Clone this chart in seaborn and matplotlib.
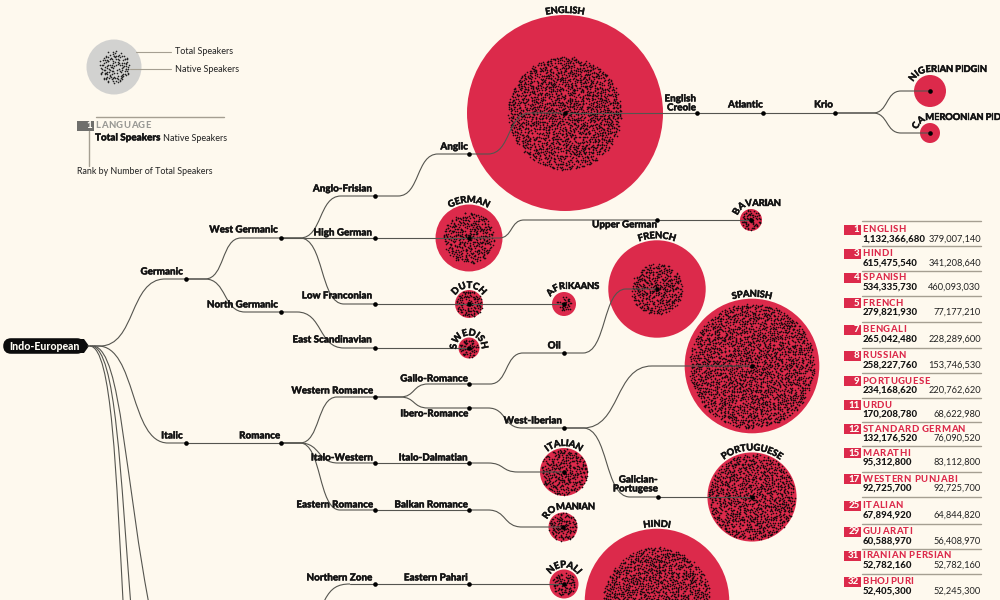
import numpy as np
import pandas as pd
import matplotlib.pyplot as plt
import matplotlib.patheffects as pe
import seaborn as sns
from matplotlib.font_manager import FontProperties
from matplotlib.patches import Circle, FancyBboxPatch, PathPatch, Polygon, Rectangle
from matplotlib.path import Path
from matplotlib.textpath import text_to_path

BG = "#fef9ee"
RED = "#dc2a4b"
INK = "#141414"
LINE = "#55554f"
RULE = "#a59f92"
FONT = "Lato"

# languages on the tree, speakers in millions
lang_names = ["ENGLISH", "NIGERIAN PIDGIN", "CAMEROONIAN PIDGIN", "GERMAN", "BAVARIAN", "DUTCH",
              "AFRIKAANS", "SWEDISH", "FRENCH", "SPANISH", "PORTUGUESE", "ITALIAN", "ROMANIAN",
              "NEPALI", "HINDI"]
lang_total = [1132.37, 30.2, 11.8, 132.18, 14.3, 23.0, 17.0, 13.0, 279.82, 534.34, 234.17, 67.89,
              24.8, 24.8, 615.48]
lang_native = [379.01, 0.0, 0.0, 76.09, 12.0, 21.0, 7.0, 10.0, 77.18, 460.09, 220.76, 64.84, 24.0,
               16.0, 341.21]

# tree nodes and where they sit on the page (pixels)
node_xy = {
    "root": (88, 346), "Germanic": (186, 279), "West Germanic": (281, 238), "North Germanic": (281, 312),
    "Anglo-Frisian": (375, 196), "High German": (375, 238), "Low Franconian": (375, 304),
    "East Scandinavian": (375, 348), "Anglic": (469, 154), "ENGLISH": (565, 113),
    "English Creole": (697, 113), "Atlantic": (763, 113), "Krio": (835, 113),
    "NIGERIAN PIDGIN": (930, 91), "CAMEROONIAN PIDGIN": (930, 133), "GERMAN": (469, 238),
    "Upper German": (657, 220), "BAVARIAN": (751, 220), "DUTCH": (469, 304), "AFRIKAANS": (564, 304),
    "SWEDISH": (469, 348), "Italic": (186, 443), "Romance": (281, 443), "Western Romance": (375, 397),
    "Italo-Western": (375, 463), "Eastern Romance": (375, 510), "Gallo-Romance": (469, 384),
    "Ibero-Romance": (469, 408), "Italo-Dalmatian": (469, 463), "Balkan Romance": (469, 510),
    "Oil": (564, 353), "FRENCH": (657, 289), "West-Iberian": (564, 428), "SPANISH": (752, 366),
    "Galician": (658, 497), "PORTUGUESE": (752, 497), "ITALIAN": (564, 472), "ROMANIAN": (563, 527),
    "Northern Zone": (375, 584), "Eastern Pahari": (469, 584), "NEPALI": (564, 584), "HINDI": (657, 601),
}

# parent, child, x where the bend starts, x where it ends (None = straight)
edges = [
    ("root", "Germanic", 100, 165), ("root", "Italic", 98, 168),
    ("Germanic", "West Germanic", 205, 241), ("Germanic", "North Germanic", 205, 245),
    ("West Germanic", "Anglo-Frisian", 300, 341), ("West Germanic", "High German", None, None),
    ("West Germanic", "Low Franconian", 300, 344), ("North Germanic", "East Scandinavian", 297, 344),
    ("Anglo-Frisian", "Anglic", 398, 438), ("Anglic", "ENGLISH", 488, 530),
    ("ENGLISH", "English Creole", None, None), ("English Creole", "Atlantic", None, None),
    ("Atlantic", "Krio", None, None), ("Krio", "NIGERIAN PIDGIN", 873, 901),
    ("Krio", "CAMEROONIAN PIDGIN", 873, 901), ("High German", "GERMAN", None, None),
    ("GERMAN", "Upper German", 499, 524), ("Upper German", "BAVARIAN", None, None),
    ("Low Franconian", "DUTCH", None, None), ("DUTCH", "AFRIKAANS", None, None),
    ("East Scandinavian", "SWEDISH", None, None), ("Italic", "Romance", None, None),
    ("Romance", "Western Romance", 300, 337), ("Romance", "Italo-Western", 300, 338),
    ("Romance", "Eastern Romance", 300, 340), ("Western Romance", "Gallo-Romance", 400, 428),
    ("Western Romance", "Ibero-Romance", 400, 428), ("Italo-Western", "Italo-Dalmatian", None, None),
    ("Eastern Romance", "Balkan Romance", None, None), ("Gallo-Romance", "Oil", 490, 523),
    ("Oil", "FRENCH", 583, 626), ("Ibero-Romance", "West-Iberian", 488, 522),
    ("West-Iberian", "SPANISH", 583, 652), ("West-Iberian", "Galician", 583, 630),
    ("Galician", "PORTUGUESE", None, None), ("Italo-Dalmatian", "ITALIAN", 488, 518),
    ("Balkan Romance", "ROMANIAN", 488, 522), ("Northern Zone", "Eastern Pahari", None, None),
    ("Eastern Pahari", "NEPALI", None, None),
]

# branch labels: text, right edge, vertical centre
branch_labels = [
    ("Germanic", 183, 272), ("West Germanic", 278, 230), ("North Germanic", 278, 305),
    ("Anglo-Frisian", 372, 189), ("High German", 372, 233), ("Low Franconian", 372, 296),
    ("East Scandinavian", 372, 340), ("Anglic", 468, 147), ("Upper German", 657, 225),
    ("Italic", 183, 436), ("Romance", 280, 436), ("Western Romance", 373, 391),
    ("Italo-Western", 373, 458), ("Eastern Romance", 373, 505), ("Gallo-Romance", 468, 379),
    ("Ibero-Romance", 468, 414), ("Italo-Dalmatian", 468, 458), ("Balkan Romance", 468, 505),
    ("Northern Zone", 372, 578), ("Eastern Pahari", 468, 578), ("Oil", 561, 346),
    ("West-Iberian", 562, 421), ("Galician-", 658, 480), ("Portugese", 658, 489),
    ("English", 696, 99), ("Creole", 696, 108), ("Atlantic", 763, 105), ("Krio", 833, 105),
]

# curved names: start angle in degrees left of the top, 0 = centred on the top; True = runs flat after the top
name_paths = {
    "ENGLISH": (0, False), "NIGERIAN PIDGIN": (62, True), "CAMEROONIAN PIDGIN": (75, True),
    "GERMAN": (0, False), "BAVARIAN": (72, True), "DUTCH": (0, False), "AFRIKAANS": (62, True),
    "SWEDISH": (0, False), "FRENCH": (0, False), "SPANISH": (0, False), "PORTUGUESE": (0, False),
    "ITALIAN": (0, False), "ROMANIAN": (65, True), "NEPALI": (0, False), "HINDI": (0, False),
}

# ranking table
rank_names = ["ENGLISH", "HINDI", "SPANISH", "FRENCH", "BENGALI", "RUSSIAN", "PORTUGUESE", "URDU",
              "STANDARD GERMAN", "MARATHI", "WESTERN PUNJABI", "ITALIAN", "GUJARATI", "IRANIAN PERSIAN",
              "BHOJPURI"]
rank_no = [1, 3, 4, 5, 7, 8, 9, 11, 12, 15, 17, 25, 29, 31, 32]
rank_total = [1132366680, 615475540, 534335730, 279821930, 265042480, 258227760, 234168620, 170208780,
              132176520, 95312800, 92725700, 67894920, 60588970, 52782160, 52405300]
rank_native = [379007140, 341208640, 460093030, 77177210, 228289600, 153746530, 220762620, 68622980,
               76090520, 83112800, 92725700, 64844820, 56408970, 52782160, 52245300]
row_y = [230, 254, 278, 303, 330, 356, 381, 405, 429, 453, 479, 506, 532, 556, 582]
rule_y = [221, 246, 271, 296, 322, 348, 373, 398, 422, 446, 472, 497, 524, 549, 574]

PX_PER_M = 98 / np.sqrt(1132.37)  # circle area follows speakers
HEAVY = [pe.withStroke(linewidth=0.25, foreground=INK)]


def radius(millions):
    return PX_PER_M * np.sqrt(millions)


def noise(a, b):
    return np.sin(a * 12.9898 + b * 78.233) * 43758.5453 % 1


def stipple(cx, cy, r, step=1.9):
    # jittered grid, thinned out, so it reads as grain
    ticks = np.arange(-r, r + step, step)
    gx, gy = np.meshgrid(ticks, ticks)
    gx, gy = gx.ravel(), gy.ravel()
    x = gx + 2.4 * (noise(gx + cx, gy + 1.3) - 0.5)
    y = gy + 2.4 * (noise(gy - cy, gx + 7.1) - 0.5)
    keep = (np.hypot(x, y) <= r) & (noise(gx * 1.7, gy * 2.3 + cx) > 0.22)
    return pd.DataFrame({"x": x[keep] + cx, "y": y[keep] + cy})


def bend(p0, p1, x0, x1, color=LINE, lw=0.8):
    if x0 is None:
        verts, codes = [p0, p1], [Path.MOVETO, Path.LINETO]
    else:
        w = 0.55 * (x1 - x0)
        verts = [p0, (x0, p0[1]), (x0 + w, p0[1]), (x1 - w, p1[1]), (x1, p1[1]), p1]
        codes = [Path.MOVETO, Path.LINETO, Path.CURVE4, Path.CURVE4, Path.CURVE4, Path.LINETO]
    ax.add_patch(PathPatch(Path(verts, codes), fc="none", ec=color, lw=lw, capstyle="round", zorder=4))


def raw_curve(pts):
    ax.add_patch(PathPatch(Path(pts, [Path.MOVETO, Path.CURVE4, Path.CURVE4, Path.CURVE4]),
                           fc="none", ec=LINE, lw=0.8, zorder=4))


def char_px(ch, prop):
    w, _, _ = text_to_path.get_text_width_height_descent(ch, prop, False)
    return w * 100 / 72


def path_text(text, cx, cy, R, start_deg, flat, size=6.8, track=-0.2):
    prop = FontProperties(family=FONT, weight="black", size=size)
    widths = [char_px(ch, prop) + track for ch in text]
    total = sum(widths)
    a0 = np.radians(start_deg) if start_deg else total / (2 * R)
    s = 0
    for ch, w in zip(text, widths):
        mid = s + w / 2
        if flat and mid > R * a0:
            x, y, rot = cx + mid - R * a0, cy - R, 0
        else:
            th = mid / R - a0
            x, y, rot = cx + R * np.sin(th), cy - R * np.cos(th), -np.degrees(th)
        ax.text(x, y, ch, fontproperties=prop, color=INK, rotation=rot, ha="center", va="baseline",
                rotation_mode="anchor", clip_on=True, path_effects=HEAVY, zorder=6)
        s += w


def spaced(text, x, y, color, size=6.8, track=0.5):
    # table names are letterspaced
    prop = FontProperties(family=FONT, weight="black", size=size)
    for ch in text:
        ax.text(x, y, ch, fontproperties=prop, color=color, va="center", ha="left")
        x += char_px(ch, prop) + track


sns.set_theme(style="white", rc={"figure.facecolor": BG, "axes.facecolor": BG})
plt.rcParams["font.family"] = [FONT, "DejaVu Sans"]

fig = plt.figure(figsize=(10, 6), dpi=100)
ax = fig.add_axes([0, 0, 1, 1])

lang = pd.DataFrame({"name": lang_names, "total": lang_total, "native": lang_native})
lang["x"] = [node_xy[n][0] for n in lang_names]
lang["y"] = [node_xy[n][1] for n in lang_names]
lang["r"] = radius(lang["total"])
lang["size"] = (2 * lang["r"] * 0.72) ** 2

sns.scatterplot(data=lang, x="x", y="y", s=lang["size"].to_numpy(), color=RED, linewidth=0, ax=ax, zorder=2)

grain = pd.concat([stipple(row.x, row.y, radius(row.native)) for row in lang.itertuples() if row.native > 0])
sns.scatterplot(data=grain, x="x", y="y", s=1.4, color="#1a0a0e", linewidth=0, ax=ax, zorder=3)

for a, b, x0, x1 in edges:
    bend(node_xy[a], node_xy[b], x0, x1)
# branches that run off the bottom of the page
raw_curve([(90, 346), (112, 348), (116, 470), (124, 620)])
raw_curve([(92, 346), (116, 350), (120, 470), (132, 620)])
raw_curve([(94, 346), (122, 352), (124, 480), (152, 620)])
raw_curve([(300, 660), (325, 600), (325, 584), (350, 584)])
bend((350, 584), node_xy["Northern Zone"], None, None)

dots = pd.DataFrame([v for k, v in node_xy.items() if k != "root"], columns=["x", "y"])
sns.scatterplot(data=dots, x="x", y="y", s=11, color="#000000", linewidth=0, ax=ax, zorder=5)

for text, x, y in branch_labels:
    ax.text(x, y, text, ha="right", va="center", fontsize=7.1, fontweight="black", color=INK, zorder=6,
            path_effects=HEAVY)

for row in lang.itertuples():
    start, flat = name_paths[row.name]
    path_text(row.name, row.x, row.y, row.r + (3 if flat else 2), start, flat)

# root pill
ax.add_patch(FancyBboxPatch((6, 341), 76, 10, boxstyle="round,pad=0,rounding_size=5", fc="#0c0c0c", ec="#0c0c0c", lw=4))
ax.add_patch(Polygon([(80, 339), (84, 339), (89, 346), (84, 353), (80, 353)], fc="#0c0c0c", ec="none"))
ax.text(44, 346, "Indo-European", color="#fffdf5", ha="center", va="center", fontsize=7.6, fontweight="black", zorder=6)

# size key
ax.add_patch(Circle((114, 67), 27.5, fc="#d2d2d0", ec="none"))
key_grain = stipple(114, 67, 16, step=2.2)
sns.scatterplot(data=key_grain, x="x", y="y", s=1.4, color="#222222", linewidth=0, ax=ax, zorder=3)
ax.plot([136, 171], [52, 52], color=RULE, lw=0.8)
ax.plot([130, 171], [69, 69], color=RULE, lw=0.8)
ax.text(175, 51.5, "Total Speakers", va="center", fontsize=6.5, color="#222222")
ax.text(175, 69, "Native Speakers", va="center", fontsize=6.5, color="#222222")

# table key
ax.plot([96, 224], [116.5, 116.5], color=RULE, lw=1)
ax.add_patch(Rectangle((76.5, 121), 17, 10, fc="#6f6f6c", ec="none"))
ax.text(92, 126, "1", color="#fffdf5", ha="right", va="center", fontsize=7, fontweight="black")
spaced("LANGUAGE", 95.5, 126, "#9a9a96")
ax.text(95, 138, "Total Speakers", color=INK, va="center", fontsize=7.1, fontweight="black", path_effects=HEAVY)
ax.text(163, 138.5, "Native Speakers", color="#222222", va="center", fontsize=6.5)
ax.plot([88.5, 88.5], [131, 166], color=RULE, lw=1)
ax.text(77, 172, "Rank by Number of Total Speakers", color="#222222", va="center", fontsize=6.4)

# ranking table
for i, name in enumerate(rank_names):
    y = row_y[i]
    ax.plot([862, 981], [rule_y[i], rule_y[i]], color=RULE, lw=1, zorder=1)
    ax.add_patch(Rectangle((844, y - 5), 16.5, 10, fc=RED, ec="none"))
    ax.text(859.5, y, str(rank_no[i]), color="#fffdf5", ha="right", va="center", fontsize=7, fontweight="black")
    spaced(name, 862.5, y, RED)
    ax.text(862.5, y + 9.5, f"{rank_total[i]:,}", color=INK, va="center", fontsize=6.9, fontweight="black")
    ax.text(981, y + 9.5, f"{rank_native[i]:,}", color="#222222", ha="right", va="center", fontsize=6.7)

ax.set_xlim(0, 1000)
ax.set_ylim(600, 0)
ax.set_axis_off()
fig.savefig("out.png", dpi=100, facecolor=BG)
